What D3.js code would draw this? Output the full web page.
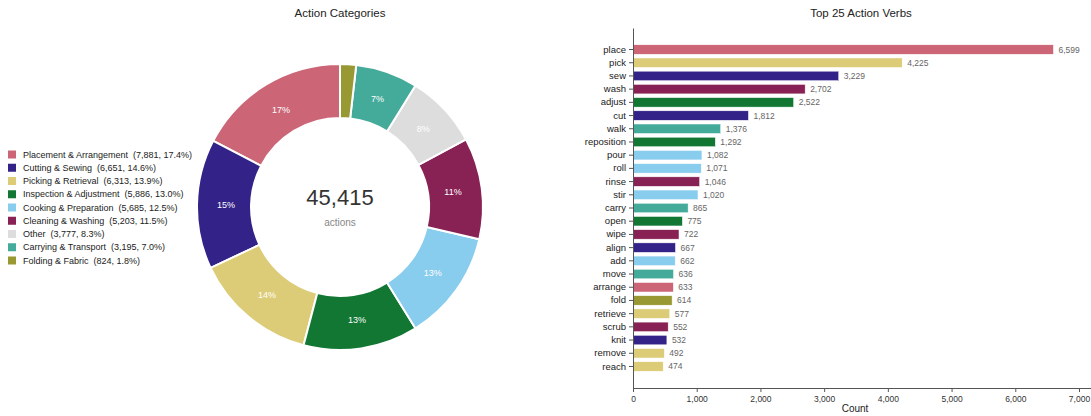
<!DOCTYPE html>
<html>
<head>
<meta charset="utf-8">
<script src="https://cdn.jsdelivr.net/npm/d3@7"></script>
<style>
  html, body { margin: 0; padding: 0; background: #fff; }
  svg { display: block; font-family: "Liberation Sans", Arial, Helvetica, sans-serif; }
  .legend-label { white-space: pre; }
</style>
</head>
<body>
<svg id="chart" width="1091" height="416"></svg>
<script>
// Category totals (donut + legend)
const categories = [
  "Placement & Arrangement", "Cutting & Sewing", "Picking & Retrieval",
  "Inspection & Adjustment", "Cooking & Preparation", "Cleaning & Washing",
  "Other", "Carrying & Transport", "Folding & Fabric"
];
const categoryCounts = [7881, 6651, 6313, 5886, 5685, 5203, 3777, 3195, 824];
const categoryColors = [
  "#CC6677", "#332288", "#DDCC77", "#117733", "#88CCEE",
  "#882255", "#DDDDDD", "#44AA99", "#999933"
];

// Top verbs (bar chart)
const verbs = [
  "place", "pick", "sew", "wash", "adjust", "cut", "walk", "reposition",
  "pour", "roll", "rinse", "stir", "carry", "open", "wipe", "align", "add",
  "move", "arrange", "fold", "retrieve", "scrub", "knit", "remove", "reach"
];
const verbCounts = [
  6599, 4225, 3229, 2702, 2522, 1812, 1376, 1292, 1082, 1071, 1046, 1020,
  865, 775, 722, 667, 662, 636, 633, 614, 577, 552, 532, 492, 474
];
const verbCategories = [
  "Placement & Arrangement", "Picking & Retrieval", "Cutting & Sewing",
  "Cleaning & Washing", "Inspection & Adjustment", "Cutting & Sewing",
  "Carrying & Transport", "Inspection & Adjustment", "Cooking & Preparation",
  "Cooking & Preparation", "Cleaning & Washing", "Cooking & Preparation",
  "Carrying & Transport", "Inspection & Adjustment", "Cleaning & Washing",
  "Cutting & Sewing", "Cooking & Preparation", "Carrying & Transport",
  "Placement & Arrangement", "Folding & Fabric", "Picking & Retrieval",
  "Cleaning & Washing", "Cutting & Sewing", "Picking & Retrieval",
  "Picking & Retrieval"
];
const countTicks = [0, 1000, 2000, 3000, 4000, 5000, 6000, 7000];

const svg = d3.select("#chart");
const fmt = d3.format(",");
const color = d3.scaleOrdinal().domain(categories).range(categoryColors);

// ---------- Donut ----------
const catData = categories.map((c, i) => ({ name: c, value: categoryCounts[i] }));
const total = d3.sum(categoryCounts);
const cx = 340, cy = 207, outerR = 143, innerR = 89;

svg.append("text")
  .attr("x", cx).attr("y", 17)
  .attr("text-anchor", "middle")
  .attr("font-size", 11.5).attr("fill", "#222")
  .text("Action Categories");

const pie = d3.pie().value(d => d.value).sort((a, b) => a.value - b.value);
const arc = d3.arc().innerRadius(innerR).outerRadius(outerR);
const labelR = (innerR + outerR) / 2 - 2;
const labelArc = d3.arc().innerRadius(labelR).outerRadius(labelR);

const donut = svg.append("g").attr("transform", `translate(${cx},${cy})`);
const arcs = pie(catData);
donut.selectAll("path.slice").data(arcs).join("path")
  .attr("class", "slice")
  .attr("d", arc)
  .attr("fill", d => color(d.data.name))
  .attr("stroke", "#fff").attr("stroke-width", 2);

donut.selectAll("text.pct").data(arcs.filter(d => d.data.value / total > 0.03)).join("text")
  .attr("class", "pct")
  .attr("transform", d => `translate(${labelArc.centroid(d)})`)
  .attr("text-anchor", "middle").attr("dy", "0.35em")
  .attr("font-size", 9).attr("fill", "#fff")
  .text(d => Math.round(d.data.value / total * 100) + "%");

donut.append("text")
  .attr("text-anchor", "middle").attr("y", -2)
  .attr("font-size", 22).attr("fill", "#333")
  .text(fmt(total));
donut.append("text")
  .attr("text-anchor", "middle").attr("y", 19)
  .attr("font-size", 10).attr("fill", "#888")
  .text("actions");

// Legend
const legend = svg.append("g").attr("transform", "translate(8,154.5)");
const rows = legend.selectAll("g").data(catData).join("g")
  .attr("transform", (d, i) => `translate(0,${i * 13.25})`);
rows.append("rect")
  .attr("x", 0).attr("y", -4).attr("width", 8).attr("height", 8)
  .attr("fill", d => color(d.name));
rows.append("text")
  .attr("class", "legend-label")
  .attr("x", 15).attr("dy", "0.35em")
  .attr("font-size", 9).attr("fill", "#222")
  .text(d => `${d.name}  (${fmt(d.value)}, ${(d.value / total * 100).toFixed(1)}%)`);

// ---------- Bar chart ----------
const barLeft = 633, barTop = 28, barBottom = 388;
const xMax = d3.max(verbCounts) * 1.1;
const x = d3.scaleLinear().domain([0, xMax]).range([barLeft, barLeft + xMax * (446 / 7000)]);
const y = d3.scaleBand().domain(verbs).range([barTop, barBottom]).paddingInner(0.28).paddingOuter(1.27);

svg.append("text")
  .attr("x", 861).attr("y", 17)
  .attr("text-anchor", "middle")
  .attr("font-size", 11.5).attr("fill", "#222")
  .text("Top 25 Action Verbs");

const verbData = verbs.map((v, i) => ({ verb: v, value: verbCounts[i], cat: verbCategories[i] }));

svg.append("g").selectAll("rect").data(verbData).join("rect")
  .attr("x", x(0)).attr("y", d => y(d.verb))
  .attr("width", d => x(d.value) - x(0)).attr("height", y.bandwidth())
  .attr("fill", d => color(d.cat))
  .attr("stroke", "#fff").attr("stroke-width", 0.5);

svg.append("g").selectAll("text").data(verbData).join("text")
  .attr("x", d => x(d.value) + 5).attr("y", d => y(d.verb) + y.bandwidth() / 2)
  .attr("dy", "0.35em")
  .attr("font-size", 8.5).attr("fill", "#666")
  .text(d => fmt(d.value));

const yAxis = svg.append("g").attr("transform", `translate(${barLeft},0)`)
  .call(d3.axisLeft(y).tickSize(4).tickSizeOuter(0).tickPadding(3));
yAxis.selectAll("text").attr("font-size", 9.5).attr("fill", "#222").attr("font-family", null);
yAxis.selectAll("line, path").attr("stroke", "#555");

const xAxis = svg.append("g").attr("transform", `translate(0,${barBottom})`)
  .call(d3.axisBottom(x).tickValues(countTicks).tickFormat(fmt).tickSize(4).tickSizeOuter(0).tickPadding(4));
xAxis.selectAll("text").attr("font-size", 8.5).attr("fill", "#333").attr("font-family", null);
xAxis.selectAll("line, path").attr("stroke", "#555");

svg.append("text")
  .attr("x", 855).attr("y", 412)
  .attr("text-anchor", "middle")
  .attr("font-size", 10).attr("fill", "#222")
  .text("Count");
</script>
</body>
</html>
